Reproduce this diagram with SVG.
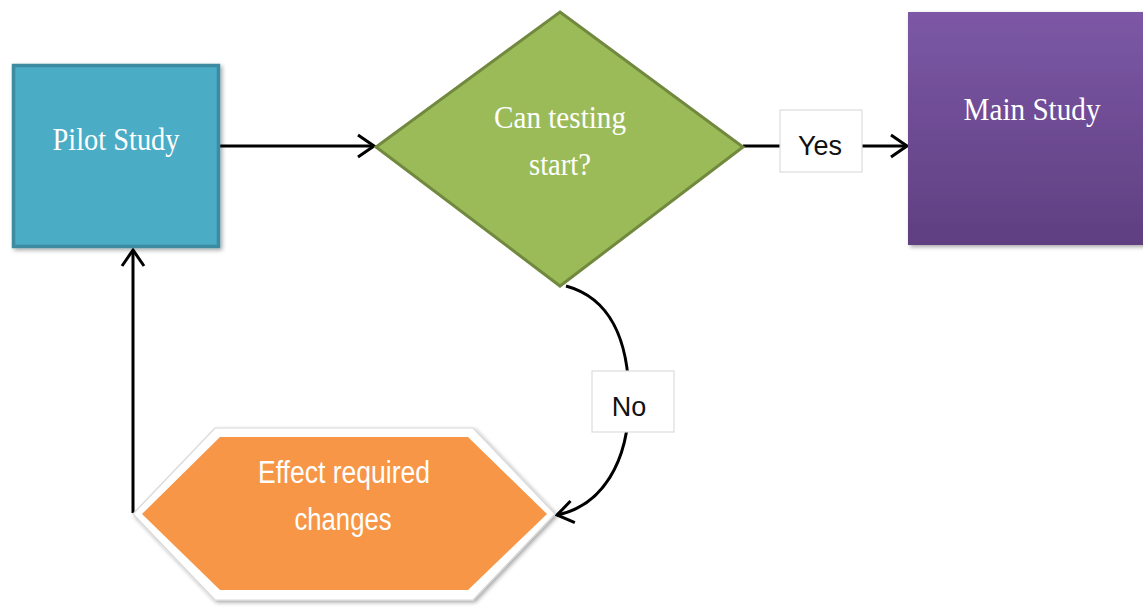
<svg xmlns="http://www.w3.org/2000/svg" width="1143" height="607" viewBox="0 0 1143 607">
  <style>
    .lbl-serif { font-family: "Liberation Serif", "Times New Roman", serif; fill: #ffffff; font-size: 31px; text-anchor: middle; }
    .lbl-sans { font-family: "Liberation Sans", Arial, sans-serif; fill: #111111; font-size: 27px; text-anchor: middle; }
    .edge { fill: none; stroke: #000000; stroke-width: 3; }
    .tag { fill: #ffffff; stroke: #dcdcdc; stroke-width: 1.2; }
  </style>
  <defs>
    <marker id="arrow" viewBox="0 0 20 26" refX="18" refY="13" markerWidth="20" markerHeight="26" markerUnits="userSpaceOnUse" orient="auto">
      <path d="M2,2 L18,13 L2,24" fill="none" stroke="#000000" stroke-width="3" stroke-linejoin="miter"/>
    </marker>
    <linearGradient id="purple" x1="0" y1="0" x2="0" y2="1">
      <stop offset="0" stop-color="#7c58a6"/>
      <stop offset="1" stop-color="#5f3f80"/>
    </linearGradient>
    <filter id="shadow" x="-10%" y="-10%" width="125%" height="125%">
      <feGaussianBlur in="SourceAlpha" stdDeviation="2"/>
      <feOffset dx="1.5" dy="2" result="b"/>
      <feComponentTransfer><feFuncA type="linear" slope="0.35"/></feComponentTransfer>
      <feMerge><feMergeNode/><feMergeNode in="SourceGraphic"/></feMerge>
    </filter>
  </defs>

  <rect width="1143" height="607" fill="#ffffff"/>

  <!-- connectors -->
  <g id="connectors">
    <line class="edge" x1="220" y1="146" x2="374" y2="146" marker-end="url(#arrow)"/>
    <line class="edge" x1="743" y1="146" x2="781" y2="146"/>
    <line class="edge" x1="862" y1="146" x2="907" y2="146" marker-end="url(#arrow)"/>
    <path class="edge" d="M566,286 C610,298 629,340 629,400 C629,462 602,506 557,515" marker-end="url(#arrow)"/>
    <line class="edge" x1="133" y1="513" x2="133" y2="250" marker-end="url(#arrow)"/>
    <rect class="tag" x="780" y="110" width="82" height="62"/>
    <text class="lbl-sans" x="820" y="155">Yes</text>
    <rect class="tag" x="592" y="371" width="82" height="61"/>
    <text class="lbl-sans" x="629" y="416">No</text>
  </g>

  <!-- pilot study -->
  <g id="pilot-study">
    <rect x="13.5" y="65.5" width="205" height="181" fill="#4bacc6" stroke="#3c8ba0" stroke-width="3.5" filter="url(#shadow)"/>
    <text class="lbl-serif" x="116" y="150" textLength="127" lengthAdjust="spacingAndGlyphs">Pilot Study</text>
  </g>

  <!-- decision -->
  <g id="decision">
    <polygon points="560,12 743,147 560,286 376,147" fill="#9bbb59" stroke="#71893f" stroke-width="3"/>
    <text class="lbl-serif" x="560" y="128" textLength="132" lengthAdjust="spacingAndGlyphs">Can testing</text>
    <text class="lbl-serif" x="560" y="175" textLength="62" lengthAdjust="spacingAndGlyphs">start?</text>
  </g>

  <!-- main study -->
  <g id="main-study">
    <rect x="908" y="12" width="240" height="233" fill="url(#purple)" filter="url(#shadow)"/>
    <text class="lbl-serif" x="1032" y="120" textLength="137" lengthAdjust="spacingAndGlyphs">Main Study</text>
  </g>

  <!-- changes -->
  <g id="effect-changes">
    <polygon points="133,514 215,428 473,428 555,514 473,600 215,600" fill="#ffffff" stroke="#d8d8d8" stroke-width="1.2" filter="url(#shadow)"/>
    <polygon points="142,514 220,437 468,437 547,514 468,590 220,590" fill="#f79646"/>
    <text x="344" y="483" font-size="31" fill="#ffffff" text-anchor="middle" font-family="Liberation Sans, Arial, sans-serif" textLength="172" lengthAdjust="spacingAndGlyphs">Effect required</text>
    <text x="343" y="530" font-size="31" fill="#ffffff" text-anchor="middle" font-family="Liberation Sans, Arial, sans-serif" textLength="97" lengthAdjust="spacingAndGlyphs">changes</text>
  </g>
</svg>
